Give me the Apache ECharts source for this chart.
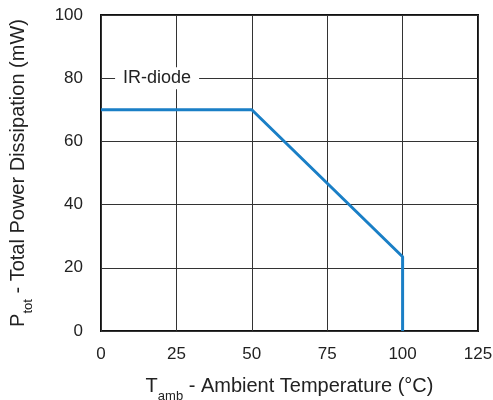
<!DOCTYPE html>
<html><head><meta charset="utf-8">
<script src="https://cdn.jsdelivr.net/npm/echarts@6/dist/echarts.min.js"></script>
<style>html,body{margin:0;padding:0;background:#fff}#c{width:493px;height:400px}</style>
</head><body><div id="c"></div>
<script>
const xValues = [0, 50, 100, 100];
const yValues = [70, 70, 23.5, 0];
const xTicks = [0, 25, 50, 75, 100, 125];
const yTicks = [0, 20, 40, 60, 80, 100];
const seriesLabel = 'IR-diode';
const labelPos = [18.6, 80];

const chart = echarts.init(document.getElementById('c'));
const font = 'Liberation Sans, Arial, sans-serif';
chart.setOption({
  animation: false,
  backgroundColor: '#fff',
  grid: { left: 101, right: 15, top: 15, bottom: 69, containLabel: false, outerBoundsMode: 'none', show: true, borderColor: '#111', borderWidth: 2, backgroundColor: 'transparent' },
  xAxis: {
    type: 'value', min: xTicks[0], max: xTicks[xTicks.length-1], interval: 25,
    axisLine: { show: false }, axisTick: { show: false },
    splitLine: { show: true, lineStyle: { color: '#333', width: 1 } },
    axisLabel: { color: '#222', fontSize: 17, fontFamily: font, margin: 15 },
    name: '{b|T}{s|amb}{b| - Ambient Temperature (°C)}',
    nameLocation: 'middle', nameGap: 45,
    nameTextStyle: { rich: { b: { fontSize: 20, fontFamily: font, color: '#222' }, s: { fontSize: 13, fontFamily: font, color: '#222', verticalAlign: 'bottom', padding: [0,0,-7,0] } } }
  },
  yAxis: {
    type: 'value', min: yTicks[0], max: yTicks[yTicks.length-1], interval: 20,
    axisLine: { show: false }, axisTick: { show: false },
    splitLine: { show: true, lineStyle: { color: '#333', width: 1 } },
    axisLabel: { color: '#222', fontSize: 17, fontFamily: font, margin: 18 },
    name: '{b|P}{s|tot}{b| - Total Power Dissipation (mW)}',
    nameLocation: 'middle', nameGap: 73, nameRotate: 90,
    nameTextStyle: { rich: { b: { fontSize: 20, fontFamily: font, color: '#222' }, s: { fontSize: 13, fontFamily: font, color: '#222', verticalAlign: 'bottom', padding: [0,0,-7,0] } } }
  },
  series: [{
    type: 'line', name: seriesLabel,
    data: xValues.map((x, i) => [x, yValues[i]]),
    symbol: 'none',
    lineStyle: { color: '#1a7fc6', width: 3 },
    markPoint: {
      symbol: 'rect', symbolSize: 0,
      label: { show: true, formatter: seriesLabel, position: 'inside', color: '#222', fontSize: 18, fontFamily: font, backgroundColor: '#fff', padding: [2, 8, 2, 8] },
      data: [{ coord: labelPos }]
    }
  }]
});
</script></body></html>
